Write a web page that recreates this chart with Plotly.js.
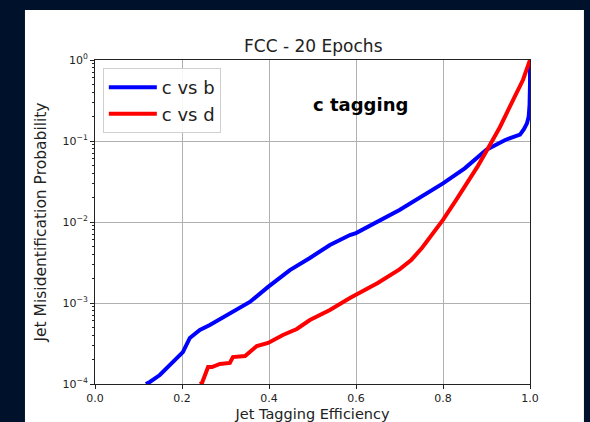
<!DOCTYPE html>
<html>
<head>
<meta charset="utf-8">
<script src="https://cdn.plot.ly/plotly-3.0.1.min.js"></script>
<style>
  html, body { margin: 0; padding: 0; background: #00112b; }
  #chart { width: 590px; height: 422px; }
</style>
</head>
<body>
<div id="chart"></div>
<script>
// ROC-style curves: c-jet tagging efficiency vs. background misidentification
const effCvsB = [0.117, 0.126, 0.149, 0.172, 0.195, 0.202, 0.218, 0.241, 0.264, 0.310, 0.356, 0.398, 0.448, 0.494, 0.540, 0.586, 0.600, 0.700, 0.800, 0.850, 0.900, 0.943, 0.977, 0.986, 0.993, 0.997, 0.999, 1.000, 1.000];
const misCvsB = [1.0e-4, 1.06e-4, 1.29e-4, 1.72e-4, 2.28e-4, 2.48e-4, 3.7e-4, 4.65e-4, 5.35e-4, 7.5e-4, 1.03e-3, 1.58e-3, 2.55e-3, 3.6e-3, 5.2e-3, 6.9e-3, 7.3e-3, 0.0141, 0.030, 0.046, 0.078, 0.103, 0.12, 0.14, 0.165, 0.20, 0.28, 0.50, 1.0];

const effCvsD = [0.241, 0.246, 0.260, 0.269, 0.287, 0.310, 0.317, 0.345, 0.372, 0.398, 0.432, 0.464, 0.494, 0.540, 0.586, 0.650, 0.700, 0.727, 0.752, 0.775, 0.800, 0.830, 0.855, 0.880, 0.901, 0.931, 0.961, 0.984, 1.000];
const misCvsD = [1.0e-4, 1.03e-4, 1.62e-4, 1.62e-4, 1.77e-4, 1.82e-4, 2.15e-4, 2.22e-4, 2.94e-4, 3.21e-4, 4.03e-4, 4.78e-4, 6.17e-4, 8.2e-4, 1.15e-3, 1.77e-3, 2.6e-3, 3.4e-3, 4.8e-3, 6.9e-3, 0.0106, 0.0186, 0.030, 0.049, 0.077, 0.149, 0.32, 0.57, 1.0];

const seriesNames = ["c vs b", "c vs d"];
const xTickVals = [0.0, 0.2, 0.4, 0.6, 0.8, 1.0];
const xTickText = ["0.0", "0.2", "0.4", "0.6", "0.8", "1.0"];
const yTickVals = [1e-4, 1e-3, 1e-2, 1e-1, 1];
const yTickText = ["10<sup>\u22124</sup>", "10<sup>\u22123</sup>", "10<sup>\u22122</sup>", "10<sup>\u22121</sup>", "10<sup>0</sup>"];
const minorMantissas = [2, 3, 4, 5, 6, 7, 8, 9];

// minor log ticks (2..9 within each decade) for the helper axis
const yMinorVals = [];
for (let e = -4; e < 0; e++) {
  for (const m of minorMantissas) yMinorVals.push(m * Math.pow(10, e));
}

const font = "DejaVu Sans, sans-serif";

const traces = [
  { x: effCvsB, y: misCvsB, name: seriesNames[0], mode: "lines",
    line: { color: "#0000ff", width: 4 } },
  { x: effCvsD, y: misCvsD, name: seriesNames[1], mode: "lines",
    line: { color: "#ff0000", width: 4 } },
  // invisible carrier for the minor-tick axis
  { x: [0.5], y: [0.01], yaxis: "y2", mode: "markers", showlegend: false,
    hoverinfo: "skip", marker: { opacity: 0 } }
];

const axisCommon = {
  showline: true, mirror: true, linecolor: "#222", linewidth: 1,
  ticks: "outside", ticklen: 4, tickcolor: "#222",
  showgrid: true, gridcolor: "#b0b0b0", gridwidth: 1,
  zeroline: false, tickfont: { family: font, size: 11, color: "#222" }
};

const layout = {
  width: 590, height: 422,
  paper_bgcolor: "#00112b",
  plot_bgcolor: "#ffffff",
  margin: { l: 95, r: 60, t: 60, b: 38 },
  showlegend: true,
  title: { text: "FCC - 20 Epochs", font: { family: font, size: 17, color: "#222" },
           x: 0.531, xanchor: "center", y: 0.891, yanchor: "middle" },
  xaxis: Object.assign({}, axisCommon, {
    range: [0, 1], tickvals: xTickVals, ticktext: xTickText,
    title: { text: "Jet Tagging Efficiency", font: { family: font, size: 14.5, color: "#222" }, standoff: 18 }
  }),
  yaxis: Object.assign({}, axisCommon, {
    type: "log", range: [-4, 0], tickvals: yTickVals, ticktext: yTickText,
    title: { text: "Jet Misidentification Probability", font: { family: font, size: 15.5, color: "#222" }, standoff: 12 }
  }),
  yaxis2: {
    type: "log", range: [-4, 0], overlaying: "y", side: "left",
    tickvals: yMinorVals, showticklabels: false, ticks: "outside", ticklen: 2,
    tickcolor: "#222", showgrid: false, zeroline: false, showline: false
  },
  legend: {
    x: 0.018, y: 0.975, xanchor: "left", yanchor: "top",
    bgcolor: "rgba(255,255,255,0.9)", bordercolor: "#d0d0d0", borderwidth: 1,
    font: { family: font, size: 18, color: "#222" }, itemwidth: 48
  },
  annotations: [{
    text: "<b>c tagging</b>", xref: "paper", yref: "paper", x: 0.61, y: 0.901,
    showarrow: false, font: { family: font, size: 18, color: "#000" }
  }],
  shapes: [{
    type: "rect", xref: "paper", yref: "paper", layer: "below",
    x0: -0.161, x1: 1.124, y0: -0.2, y1: 1.154,
    fillcolor: "#ffffff", line: { width: 0 }
  }]
};

Plotly.newPlot("chart", traces, layout, { displayModeBar: false, staticPlot: true });
</script>
</body>
</html>
